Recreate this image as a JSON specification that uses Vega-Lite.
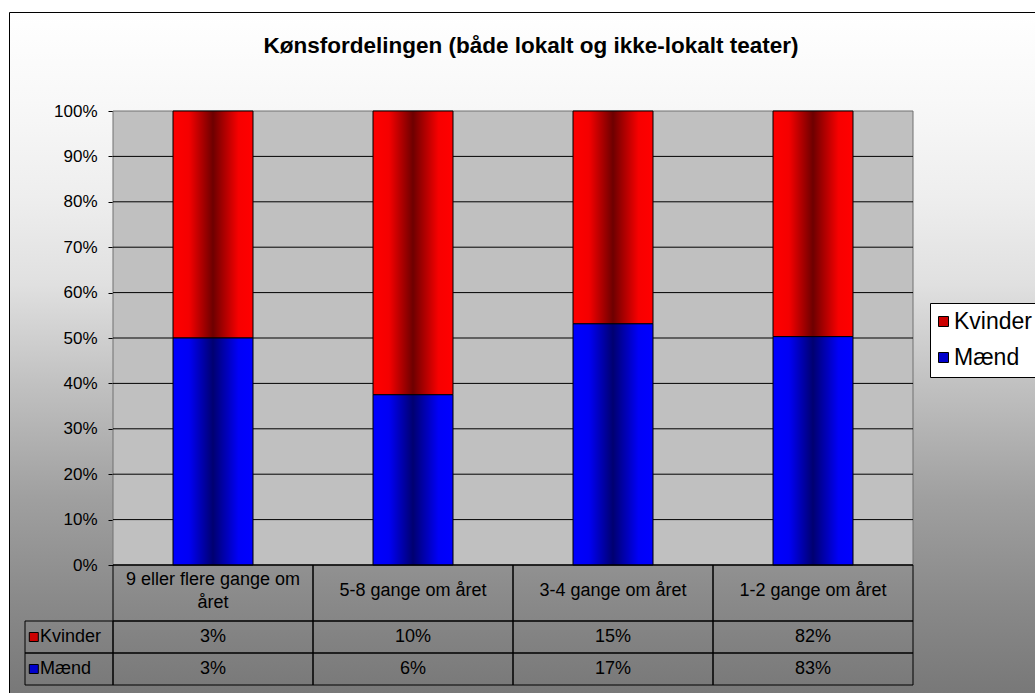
{
  "$schema": "https://vega.github.io/schema/vega-lite/v6.json",
  "width": 1026,
  "height": 681,
  "autosize": "none",
  "padding": {"left": 9, "top": 12, "right": 0, "bottom": 0},
  "background": "white",
  "view": {
    "stroke": "black",
    "strokeWidth": 1,
    "fill": {
      "gradient": "linear", "x1": 0, "y1": 0, "x2": 0, "y2": 1,
      "stops": [
        {"offset": 0, "color": "#FFFFFF"},
        {"offset": 0.13, "color": "#F8F8F8"},
        {"offset": 0.27, "color": "#EEEEEE"},
        {"offset": 0.4, "color": "#E0E0E0"},
        {"offset": 0.54, "color": "#C2C2C2"},
        {"offset": 0.71, "color": "#A0A0A0"},
        {"offset": 0.86, "color": "#8A8A8A"},
        {"offset": 1, "color": "#787878"}
      ]
    }
  },
  "config": {"font": "Liberation Sans"},
  "title": {
    "text": "Kønsfordelingen (både lokalt og ikke-lokalt teater)",
    "fontSize": 22.5, "fontWeight": "bold", "font": "Liberation Sans", "color": "black",
    "anchor": "middle", "frame": "group", "offset": -63, "baseline": "alphabetic", "dx": 9
  },
  "datasets": {
    "andele": [
      {"Hyppighed": "9 eller flere gange om\nåret", "Køn": "Kvinder", "Andel": 0.03},
      {"Hyppighed": "9 eller flere gange om\nåret", "Køn": "Mænd", "Andel": 0.03},
      {"Hyppighed": "5-8 gange om året", "Køn": "Kvinder", "Andel": 0.10},
      {"Hyppighed": "5-8 gange om året", "Køn": "Mænd", "Andel": 0.06},
      {"Hyppighed": "3-4 gange om året", "Køn": "Kvinder", "Andel": 0.15},
      {"Hyppighed": "3-4 gange om året", "Køn": "Mænd", "Andel": 0.17},
      {"Hyppighed": "1-2 gange om året", "Køn": "Kvinder", "Andel": 0.82},
      {"Hyppighed": "1-2 gange om året", "Køn": "Mænd", "Andel": 0.83}
    ],
    "gitter": [
      {"Niveau": 0}, {"Niveau": 0.1}, {"Niveau": 0.2}, {"Niveau": 0.3}, {"Niveau": 0.4},
      {"Niveau": 0.5}, {"Niveau": 0.6}, {"Niveau": 0.7}, {"Niveau": 0.8}, {"Niveau": 0.9}
    ]
  },
  "resolve": {
    "scale": {"x": "independent", "y": "independent"},
    "axis": {"x": "independent", "y": "independent"}
  },
  "layer": [
    {
      "data": {"values": [{}]},
      "mark": {"type": "rect", "fill": "#C0C0C0", "stroke": "#707070", "strokeWidth": 1},
      "encoding": {
        "x": {"datum": 0, "type": "quantitative", "scale": {"domain": [0, 1], "range": [104, 904]}, "axis": null},
        "x2": {"datum": 1},
        "y": {"datum": 0, "type": "quantitative", "scale": {"domain": [0, 1], "range": [553, 99]}, "axis": null},
        "y2": {"datum": 1}
      }
    },
    {
      "data": {"name": "gitter"},
      "mark": {"type": "rule", "color": "black", "strokeWidth": 1},
      "encoding": {
        "x": {"datum": 0, "type": "quantitative", "scale": {"domain": [0, 1], "range": [104, 904]}, "axis": null},
        "x2": {"datum": 1},
        "y": {"field": "Niveau", "type": "quantitative", "scale": {"domain": [0, 1], "range": [553, 99]}, "axis": null}
      }
    },
    {
      "data": {"name": "andele"},
      "mark": {"type": "bar", "width": {"band": 0.4}, "stroke": "black", "strokeWidth": 1},
      "encoding": {
        "x": {
          "field": "Hyppighed", "type": "nominal",
          "scale": {"domain": ["9 eller flere gange om\nåret", "5-8 gange om året", "3-4 gange om året", "1-2 gange om året"], "range": [104, 904], "paddingInner": 0, "paddingOuter": 0},
          "axis": null
        },
        "y": {
          "field": "Andel", "type": "quantitative", "stack": "normalize",
          "scale": {"domain": [0, 1], "range": [553, 99], "nice": false},
          "axis": {
            "values": [0, 0.1, 0.2, 0.3, 0.4, 0.5, 0.6, 0.7, 0.8, 0.9, 1],
            "format": ".0%", "grid": false, "domain": false, "offset": -104,
            "tickSize": 5, "tickColor": "black", "tickWidth": 1,
            "labelFontSize": 17, "labelColor": "black", "labelPadding": 11,
            "labelFont": "Liberation Sans", "title": null
          }
        },
        "detail": {"field": "Køn", "type": "nominal"},
        "order": {"field": "Køn", "sort": "descending"},
        "fill": {
          "condition": {
            "test": "datum['Køn'] === 'Kvinder'",
            "value": {
              "gradient": "linear", "x1": 0, "y1": 0, "x2": 1, "y2": 0,
              "stops": [
                {"offset": 0, "color": "#FF0000"},
                {"offset": 0.2, "color": "#F50000"},
                {"offset": 0.5, "color": "#6E0000"},
                {"offset": 0.82, "color": "#F80000"},
                {"offset": 1, "color": "#FF0000"}
              ]
            }
          },
          "value": {
            "gradient": "linear", "x1": 0, "y1": 0, "x2": 1, "y2": 0,
            "stops": [
              {"offset": 0, "color": "#0000FF"},
              {"offset": 0.2, "color": "#0000F5"},
              {"offset": 0.5, "color": "#000070"},
              {"offset": 0.82, "color": "#0000F8"},
              {"offset": 1, "color": "#0000FF"}
            ]
          }
        }
      }
    },
    {
      "data": {"name": "andele"},
      "transform": [{"filter": {"field": "Køn", "equal": "Mænd"}}],
      "mark": {"type": "rect", "fillOpacity": 0, "stroke": "black", "strokeWidth": 1},
      "encoding": {
        "x": {
          "field": "Hyppighed", "type": "nominal",
          "scale": {"domain": ["9 eller flere gange om\nåret", "5-8 gange om året", "3-4 gange om året", "1-2 gange om året"], "range": [104, 904], "paddingInner": 0, "paddingOuter": 0},
          "axis": null
        },
        "y": {"datum": 0, "type": "quantitative", "scale": {"domain": [0, 1], "range": [553, 609]}, "axis": null},
        "y2": {"datum": 1}
      }
    },
    {
      "data": {"name": "andele"},
      "transform": [{"filter": {"and": [{"field": "Køn", "equal": "Mænd"}, {"not": {"field": "Hyppighed", "equal": "9 eller flere gange om\nåret"}}]}}],
      "mark": {"type": "text", "fontSize": 18, "color": "black", "baseline": "middle", "align": "center", "font": "Liberation Sans"},
      "encoding": {
        "x": {
          "field": "Hyppighed", "type": "nominal",
          "scale": {"domain": ["9 eller flere gange om\nåret", "5-8 gange om året", "3-4 gange om året", "1-2 gange om året"], "range": [104, 904], "paddingInner": 0, "paddingOuter": 0},
          "axis": null
        },
        "y": {"datum": 0.47, "type": "quantitative", "scale": {"domain": [0, 1], "range": [553, 609]}, "axis": null},
        "text": {"field": "Hyppighed"}
      }
    },
    {
      "data": {"name": "andele"},
      "transform": [{"filter": {"and": [{"field": "Køn", "equal": "Mænd"}, {"field": "Hyppighed", "equal": "9 eller flere gange om\nåret"}]}}],
      "mark": {"type": "text", "lineBreak": "\n", "fontSize": 18, "color": "black", "baseline": "middle", "align": "center", "lineHeight": 23, "font": "Liberation Sans"},
      "encoding": {
        "x": {
          "field": "Hyppighed", "type": "nominal",
          "scale": {"domain": ["9 eller flere gange om\nåret", "5-8 gange om året", "3-4 gange om året", "1-2 gange om året"], "range": [104, 904], "paddingInner": 0, "paddingOuter": 0},
          "axis": null
        },
        "y": {"datum": 0.27, "type": "quantitative", "scale": {"domain": [0, 1], "range": [553, 609]}, "axis": null},
        "text": {"field": "Hyppighed"}
      }
    },
    {
      "data": {"name": "andele"},
      "mark": {"type": "rect", "fillOpacity": 0, "stroke": "black", "strokeWidth": 1},
      "encoding": {
        "x": {
          "field": "Hyppighed", "type": "nominal",
          "scale": {"domain": ["9 eller flere gange om\nåret", "5-8 gange om året", "3-4 gange om året", "1-2 gange om året"], "range": [104, 904], "paddingInner": 0, "paddingOuter": 0},
          "axis": null
        },
        "y": {"field": "Køn", "type": "nominal", "scale": {"domain": ["Kvinder", "Mænd"], "range": [609, 673], "paddingInner": 0, "paddingOuter": 0}, "axis": null}
      }
    },
    {
      "data": {"name": "andele"},
      "mark": {"type": "text", "fontSize": 18, "color": "black", "baseline": "middle", "align": "center", "font": "Liberation Sans"},
      "encoding": {
        "x": {
          "field": "Hyppighed", "type": "nominal",
          "scale": {"domain": ["9 eller flere gange om\nåret", "5-8 gange om året", "3-4 gange om året", "1-2 gange om året"], "range": [104, 904], "paddingInner": 0, "paddingOuter": 0},
          "axis": null
        },
        "y": {"field": "Køn", "type": "nominal", "scale": {"domain": ["Kvinder", "Mænd"], "range": [609, 673], "paddingInner": 0, "paddingOuter": 0}, "axis": null},
        "text": {"field": "Andel", "type": "quantitative", "format": ".0%"}
      }
    },
    {
      "data": {"name": "andele"},
      "transform": [{"aggregate": [{"op": "count", "as": "n"}], "groupby": ["Køn"]}],
      "mark": {"type": "rect", "fillOpacity": 0, "stroke": "black", "strokeWidth": 1},
      "encoding": {
        "x": {"datum": 0, "type": "quantitative", "scale": {"domain": [0, 1], "range": [16, 104]}, "axis": null},
        "x2": {"datum": 1},
        "y": {"field": "Køn", "type": "nominal", "scale": {"domain": ["Kvinder", "Mænd"], "range": [609, 673], "paddingInner": 0, "paddingOuter": 0}, "axis": null}
      }
    },
    {
      "data": {"name": "andele"},
      "transform": [{"aggregate": [{"op": "count", "as": "n"}], "groupby": ["Køn"]}],
      "mark": {"type": "point", "shape": "square", "filled": true, "size": 81, "opacity": 1, "stroke": "black", "strokeWidth": 1},
      "encoding": {
        "x": {"datum": 0.1, "type": "quantitative", "scale": {"domain": [0, 1], "range": [16, 104]}, "axis": null},
        "y": {"field": "Køn", "type": "nominal", "scale": {"domain": ["Kvinder", "Mænd"], "range": [609, 673], "paddingInner": 0, "paddingOuter": 0}, "axis": null},
        "color": {
          "field": "Køn", "type": "nominal",
          "scale": {"domain": ["Kvinder", "Mænd"], "range": ["#CC0000", "#0000CC"]},
          "legend": {
            "orient": "none", "legendX": 921, "legendY": 291, "title": null,
            "fillColor": "white", "strokeColor": "black", "padding": 7,
            "labelFontSize": 23, "labelFont": "Liberation Sans", "labelColor": "black",
            "symbolType": "square", "symbolSize": 100, "symbolStrokeColor": "black",
            "symbolStrokeWidth": 1, "symbolOpacity": 1, "rowPadding": 12,
            "symbolOffset": -5, "labelOffset": -1
          }
        }
      }
    },
    {
      "data": {"name": "andele"},
      "transform": [{"aggregate": [{"op": "count", "as": "n"}], "groupby": ["Køn"]}],
      "mark": {"type": "text", "fontSize": 18, "color": "black", "baseline": "middle", "align": "left", "font": "Liberation Sans"},
      "encoding": {
        "x": {"datum": 0.17, "type": "quantitative", "scale": {"domain": [0, 1], "range": [16, 104]}, "axis": null},
        "y": {"field": "Køn", "type": "nominal", "scale": {"domain": ["Kvinder", "Mænd"], "range": [609, 673], "paddingInner": 0, "paddingOuter": 0}, "axis": null},
        "text": {"field": "Køn"}
      }
    }
  ]
}
